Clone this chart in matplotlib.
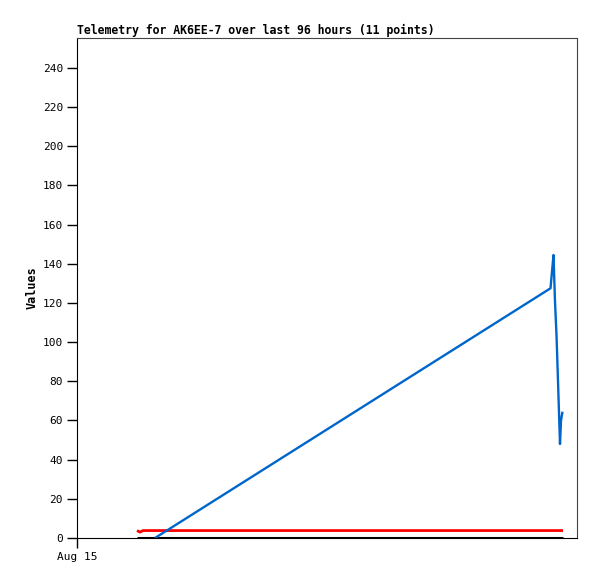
import matplotlib
matplotlib.use("Agg")
import matplotlib.pyplot as plt

# x in hours after Aug 15 00:00
blue_x = [15.6, 94.7, 95.0, 95.3, 95.6, 95.9, 96.1, 96.3, 96.5, 96.6, 96.8, 97.1]
blue_y = [0.0, 127.5, 136.0, 144.5, 120.7, 103.7, 88.0, 72.0, 56.0, 48.0, 60.0, 64.5]
red_x = [12.0, 12.6, 13.2, 97.2]
red_y = [3.8, 3.0, 3.8, 3.8]
black_x = [12.0, 97.2]
black_y = [0.0, 0.0]
xtick_pos = [0]
xtick_labels = ["Aug 15"]
yticks = [0, 20, 40, 60, 80, 100, 120, 140, 160, 180, 200, 220, 240]

plt.rcParams['font.family'] = ['DejaVu Sans Mono']
fig = plt.figure(figsize=(5.97, 5.79), dpi=100)
ax = fig.add_axes([77/597, 41/579, 500/597, 500/579])

ax.plot(black_x, black_y, color="black", lw=2.2, solid_capstyle="butt")
ax.plot(red_x, red_y, color="#ff0000", lw=2.0, solid_capstyle="butt")
ax.plot(blue_x, blue_y, color="#0066cc", lw=1.7, solid_capstyle="butt")

ax.set_xlim(0, 100)
ax.set_ylim(0, 255.3)
ax.set_yticks(yticks)
ax.set_yticklabels([str(v) for v in yticks])
ax.set_xticks(xtick_pos)
ax.set_xticklabels(xtick_labels)
ax.tick_params(axis="both", direction="out", length=7, width=1, labelsize=8, pad=3)
for s in ["left", "bottom"]:
    ax.spines[s].set_color("black")
for s in ["top", "right"]:
    ax.spines[s].set_color("#444444")
ax.set_ylabel("Values", fontsize=8.5, fontweight="bold", labelpad=3)
ax.set_title("Telemetry for AK6EE-7 over last 96 hours (11 points)", loc="left",
             fontsize=8.3, fontweight="bold", pad=3)

fig.savefig("out.png", dpi=100)
